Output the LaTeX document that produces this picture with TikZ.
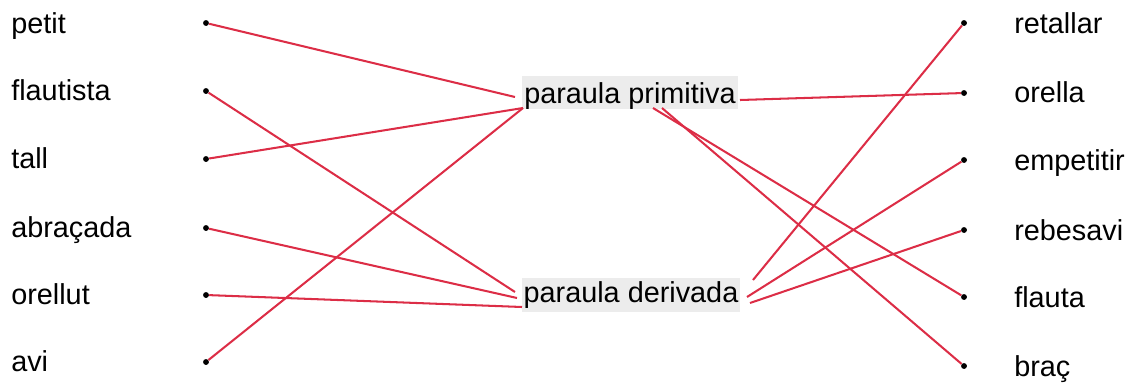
\documentclass[tikz,border=0pt]{standalone}
\usepackage{fontspec}
\setmainfont{Liberation Sans}
\usepackage{tikz}

\definecolor{linkred}{RGB}{220,45,70}
\definecolor{boxgray}{RGB}{236,236,236}

\tikzset{
	dot/.style={circle,fill=black,inner sep=0pt,minimum size=4.2pt},
	word/.style={anchor=base west,inner sep=0pt,font=\fontsize{20.5}{24}\selectfont},
	kind/.style={anchor=base,fill=boxgray,inner sep=1.5pt,font=\fontsize{20.5}{24}\selectfont},
	link/.style={draw=linkred,line width=1.45pt}
}

\begin{document}
\begin{tikzpicture}[x=0.025cm,y=-0.025cm]
	\useasboundingbox (0,0) rectangle (1133,383);
	
	% left column
	\node[dot] (l1) at (206,23)  {};
	\node[dot] (l2) at (206,91)  {};
	\node[dot] (l3) at (206,159) {};
	\node[dot] (l4) at (206,228) {};
	\node[dot] (l5) at (206,295) {};
	\node[dot] (l6) at (206,362) {};
	
	\node[word] (t1) at (11,33)  {petit};
	\node[word] (t2) at (11,100) {flautista};
	\node[word] (t3) at (11,168) {tall};
	\node[word] (t4) at (11,237) {abraçada};
	\node[word] (t5) at (11,304) {orellut};
	\node[word] (t6) at (11,371) {avi};
	
	% middle
	\node[kind,text height=17.5pt,text depth=3pt] (prim) at (630,103) {paraula primitiva};
	\node[kind,text height=15.5pt,text depth=5.5pt] (der) at (631,302) {paraula derivada};
	
	\coordinate (p1) at (515,97);
	\coordinate (p2) at (523,108);
	\coordinate (p3) at (740,100);
	\coordinate (p4) at (653,108);
	\coordinate (p5) at (662,108);
	
	\coordinate (d1) at (515,292);
	\coordinate (d2) at (517,298);
	\coordinate (d3) at (522,307);
	\coordinate (d4) at (753,280);
	\coordinate (d5) at (747,297);
	\coordinate (d6) at (750,303);
	
	% right column
	\node[dot] (r1) at (964,23)  {};
	\node[dot] (r2) at (964,93)  {};
	\node[dot] (r3) at (964,160) {};
	\node[dot] (r4) at (964,230) {};
	\node[dot] (r5) at (964,297) {};
	\node[dot] (r6) at (964,366) {};
	
	\node[word] (s1) at (1014,33)  {retallar};
	\node[word] (s2) at (1014,102) {orella};
	\node[word] (s3) at (1014,170) {empetitir};
	\node[word] (s4) at (1014,240) {rebesavi};
	\node[word] (s5) at (1014,307) {flauta};
	\node[word] (s6) at (1014,376) {braç};
	
	\path[link] (l1) edge (p1);
	\path[link] (l2) edge (d1);
	\path[link] (l3) edge (p2);
	\path[link] (l4) edge (d2);
	\path[link] (l5) edge (d3);
	\path[link] (l6) edge (p2);
	
	\path[link] (p3) edge (r2);
	\path[link] (p4) edge (r5);
	\path[link] (p5) edge (r6);
	\path[link] (d4) edge (r1);
	\path[link] (d5) edge (r3);
	\path[link] (d6) edge (r4);

\end{tikzpicture}
\end{document}
